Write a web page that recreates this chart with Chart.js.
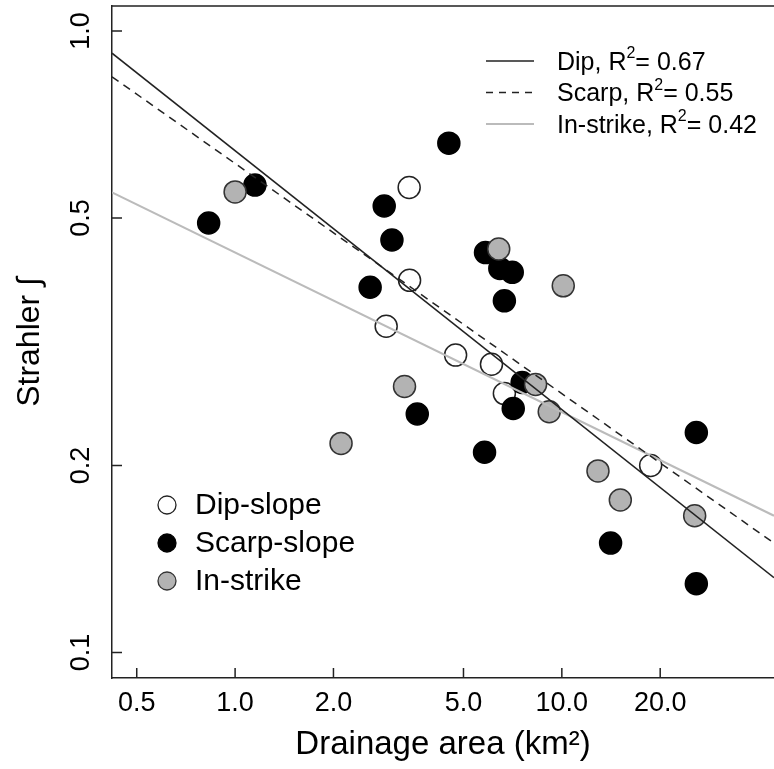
<!DOCTYPE html>
<html>
<head>
<meta charset="utf-8">
<script src="https://cdn.jsdelivr.net/npm/chart.js@4"></script>
<style>
  body { margin: 0; background: #fff; }
</style>
</head>
<body>
<canvas id="strahlerChart" width="774" height="769"></canvas>
<script>
// Drainage area (km2) and Strahler integral
const dipArea = [3.41, 3.42, 2.90, 4.73, 6.09, 6.67, 18.7];
const dipStrahler = [0.560, 0.397, 0.335, 0.301, 0.291, 0.261, 0.200];

const scarpArea = [0.83, 1.15, 4.51, 2.86, 3.02, 2.59, 3.61, 5.80, 5.84, 6.46, 7.05, 6.67, 7.10, 7.56, 25.8, 14.1, 25.8];
const scarpStrahler = [0.491, 0.565, 0.660, 0.523, 0.461, 0.387, 0.242, 0.210, 0.440, 0.415, 0.409, 0.368, 0.247, 0.272, 0.226, 0.150, 0.129];

const strikeArea = [1.00, 6.41, 10.1, 3.30, 2.11, 8.31, 9.15, 12.9, 15.1, 25.5];
const strikeStrahler = [0.551, 0.446, 0.389, 0.268, 0.217, 0.270, 0.244, 0.196, 0.176, 0.166];

// regression lines, value at both ends of the x range
const fitArea = [0.42, 44.6];
const dipFit = [0.921, 0.132];
const scarpFit = [0.844, 0.150];
const strikeFit = [0.550, 0.166];

const fitLabels = ['Dip', 'Scarp', 'In-strike'];
const fitR2 = ['0.67', '0.55', '0.42'];
const groupLabels = ['Dip-slope', 'Scarp-slope', 'In-strike'];

const xTicks = [0.5, 1, 2, 5, 10, 20];
const yTicks = [0.1, 0.2, 0.5, 1.0];

const toPoints = (xs, ys) => xs.map((x, i) => ({ x: x, y: ys[i] }));

const FONT = '"Liberation Sans", Arial, Helvetica, sans-serif';

// inward tick marks + top frame line
const frame = {
    id: 'frame',
    afterDraw(chart) {
        const { ctx, chartArea, scales } = chart;
        ctx.save();
        ctx.strokeStyle = '#222';
        ctx.lineWidth = 1.5;
        ctx.beginPath();
        ctx.moveTo(chartArea.left, chartArea.top);
        ctx.lineTo(chartArea.right + 2, chartArea.top);
        xTicks.forEach((v) => {
            const px = scales.x.getPixelForValue(v);
            ctx.moveTo(px, chartArea.bottom);
            ctx.lineTo(px, chartArea.bottom - 10);
        });
        yTicks.forEach((v) => {
            const py = scales.y.getPixelForValue(v);
            ctx.moveTo(chartArea.left, py);
            ctx.lineTo(chartArea.left + 10, py);
        });
        ctx.stroke();
        ctx.restore();
    },
};

// the two legends drawn inside the plot
const legends = {
    id: 'legends',
    afterDraw(chart) {
        const { ctx } = chart;
        ctx.save();
        ctx.textBaseline = 'middle';
        ctx.fillStyle = '#000';

        // line legend, top right
        const lineStyles = [
            { color: '#222', dash: [], width: 1.5 },
            { color: '#222', dash: [7, 6], width: 1.5 },
            { color: '#bbb', dash: [], width: 2 },
        ];
        fitLabels.forEach((name, i) => {
            const y = 61 + i * 31.5;
            ctx.strokeStyle = lineStyles[i].color;
            ctx.lineWidth = lineStyles[i].width;
            ctx.setLineDash(lineStyles[i].dash);
            ctx.beginPath();
            ctx.moveTo(486, y);
            ctx.lineTo(534, y);
            ctx.stroke();
            ctx.setLineDash([]);

            let x = 557;
            ctx.font = '25px ' + FONT;
            const head = name + ', R';
            ctx.fillText(head, x, y + 2);
            x += ctx.measureText(head).width;
            ctx.font = '16px ' + FONT;
            ctx.fillText('2', x, y - 7);
            x += ctx.measureText('2').width;
            ctx.font = '25px ' + FONT;
            ctx.fillText('= ' + fitR2[i], x, y + 2);
        });

        // point legend, bottom left
        const fills = ['#fff', '#000', '#b3b3b3'];
        const strokes = ['#222', '#000', '#333'];
        groupLabels.forEach((name, i) => {
            const y = 505 + i * 38;
            ctx.beginPath();
            ctx.arc(167, y, 9, 0, Math.PI * 2);
            ctx.fillStyle = fills[i];
            ctx.fill();
            ctx.strokeStyle = strokes[i];
            ctx.lineWidth = 1.3;
            ctx.stroke();
            ctx.fillStyle = '#000';
            ctx.font = '30px ' + FONT;
            ctx.fillText(name, 195, y + 1);
        });
        ctx.restore();
    },
};

const pointStyle = (bg, border) => ({
    type: 'scatter',
    backgroundColor: bg,
    borderColor: border,
    borderWidth: 1.5,
    pointRadius: 11,
    pointHoverRadius: 11,
});

const fitStyle = (color, width, dash) => ({
    type: 'line',
    borderColor: color,
    borderWidth: width,
    borderDash: dash,
    pointRadius: 0,
    fill: false,
    order: 0,
});

new Chart(document.getElementById('strahlerChart'), {
    type: 'scatter',
    data: {
        datasets: [
            { label: 'Dip fit', data: toPoints(fitArea, dipFit), ...fitStyle('#222', 1.5, []) },
            { label: 'Scarp fit', data: toPoints(fitArea, scarpFit), ...fitStyle('#222', 1.5, [8, 6]) },
            { label: 'In-strike fit', data: toPoints(fitArea, strikeFit), ...fitStyle('#bbb', 2, []) },
            { label: 'In-strike', data: toPoints(strikeArea, strikeStrahler), ...pointStyle('#b3b3b3', '#333'), order: 1 },
            { label: 'Scarp-slope', data: toPoints(scarpArea, scarpStrahler), ...pointStyle('#000', '#000'), order: 2 },
            { label: 'Dip-slope', data: toPoints(dipArea, dipStrahler), ...pointStyle('#fff', '#222'), order: 3 },
        ],
    },
    options: {
        responsive: false,
        animation: false,
        layout: { autoPadding: false, padding: { top: 6, right: 0, bottom: 0, left: 0 } },
        plugins: {
            legend: { display: false },
            tooltip: { enabled: false },
        },
        scales: {
            x: {
                type: 'logarithmic',
                min: 0.42,
                max: 44.6,
                grid: { display: false, drawTicks: false },
                border: { display: true, color: '#222', width: 1.5 },
                ticks: {
                    color: '#000',
                    font: { family: FONT, size: 27 },
                    padding: 9,
                    maxRotation: 0,
                    autoSkip: false,
                    callback: (v) => Number(v).toFixed(1),
                },
                title: {
                    display: true,
                    text: 'Drainage area (km²)',
                    color: '#000',
                    font: { family: FONT, size: 33 },
                    padding: { top: 0, bottom: 4 },
                },
                afterBuildTicks: (scale) => {
                    scale.ticks = xTicks.map((v) => ({ value: v }));
                },
                afterFit: (scale) => {
                    scale.height = 91;
                    scale.paddingLeft = 0;
                    scale.paddingRight = 0;
                },
            },
            y: {
                type: 'logarithmic',
                min: 0.091,
                max: 1.097,
                grid: { display: false, drawTicks: false },
                border: { display: true, color: '#222', width: 1.5 },
                ticks: {
                    color: '#000',
                    font: { family: FONT, size: 27 },
                    padding: 11.5,
                    minRotation: 90,
                    maxRotation: 90,
                    crossAlign: 'center',
                    autoSkip: false,
                    callback: (v) => Number(v).toFixed(1),
                },
                title: {
                    display: true,
                    text: 'Strahler ∫',
                    color: '#000',
                    font: { family: FONT, size: 32 },
                    padding: { top: 11, bottom: 0 },
                },
                afterBuildTicks: (scale) => {
                    scale.ticks = yTicks.map((v) => ({ value: v }));
                },
                afterFit: (scale) => {
                    scale.width = 112;
                    scale.paddingTop = 0;
                    scale.paddingBottom = 0;
                },
            },
        },
    },
    plugins: [frame, legends],
});
</script>
</body>
</html>
